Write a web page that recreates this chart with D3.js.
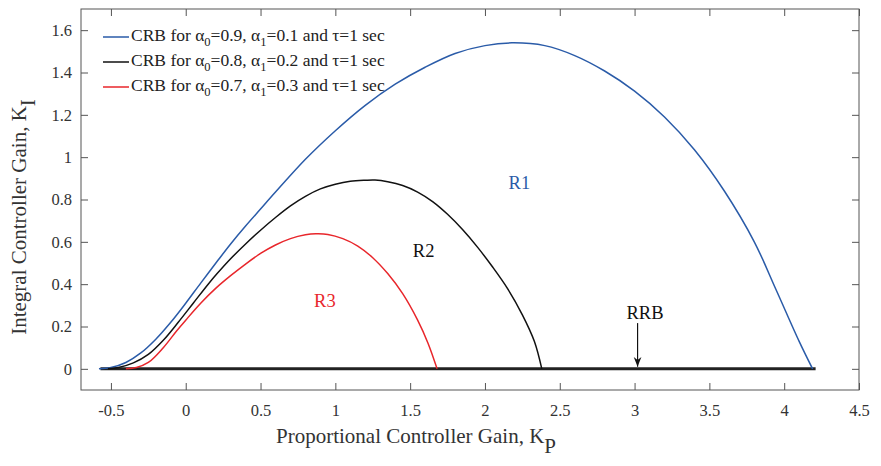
<!DOCTYPE html>
<html><head><meta charset="utf-8">
<script src="https://cdn.jsdelivr.net/npm/d3@7"></script>
<style>body{margin:0;background:#fff}svg{display:block}</style>
</head><body>
<svg id="c" width="881" height="466"></svg>
<script>
// ---- data ----
const xTicks = [-0.5,0,0.5,1,1.5,2,2.5,3,3.5,4,4.5];
const yTicks = [0,0.2,0.4,0.6,0.8,1,1.2,1.4,1.6];
const xTickLabels = ["-0.5","0","0.5","1","1.5","2","2.5","3","3.5","4","4.5"];
const yTickLabels = ["0","0.2","0.4","0.6","0.8","1","1.2","1.4","1.6"];

const crb1 = [[-0.58,0],[-0.5,0.006],[-0.4,0.03],[-0.3,0.075],[-0.2,0.14],[-0.1,0.22],[0.0,0.31],[0.1,0.405],[0.218,0.515],[0.3,0.59],[0.4,0.675],[0.5,0.755],[0.6,0.835],[0.8,0.99],[1.0,1.125],[1.2,1.245],[1.4,1.345],[1.6,1.425],[1.8,1.49],[2.0,1.527],[2.18,1.54],[2.4,1.527],[2.6,1.48],[2.8,1.407],[3.0,1.312],[3.2,1.19],[3.4,1.035],[3.6,0.84],[3.8,0.6],[3.945,0.375],[4.1,0.13],[4.19,0]];
const crb2 = [[-0.52,0],[-0.45,0.006],[-0.35,0.028],[-0.25,0.068],[-0.15,0.135],[-0.05,0.22],[0.05,0.31],[0.15,0.4],[0.21,0.45],[0.3,0.52],[0.4,0.59],[0.5,0.655],[0.6,0.715],[0.7,0.77],[0.8,0.815],[0.9,0.85],[1.0,0.872],[1.1,0.886],[1.2,0.891],[1.265,0.892],[1.35,0.884],[1.45,0.866],[1.55,0.835],[1.65,0.79],[1.75,0.73],[1.85,0.658],[1.95,0.575],[2.05,0.482],[2.15,0.38],[2.25,0.255],[2.33,0.13],[2.38,0]];
const crb3 = [[-0.4,0],[-0.33,0.006],[-0.25,0.03],[-0.15,0.1],[-0.06,0.18],[0.0,0.23],[0.1,0.31],[0.2,0.38],[0.3,0.44],[0.4,0.495],[0.5,0.545],[0.6,0.585],[0.7,0.615],[0.8,0.633],[0.87,0.638],[0.95,0.635],[1.05,0.615],[1.15,0.58],[1.25,0.525],[1.35,0.45],[1.45,0.355],[1.55,0.23],[1.62,0.12],[1.68,0]];
const rrb = [[-0.57,0],[4.21,0]];
const legendLabels = [["0.9","0.1"],["0.8","0.2"],["0.7","0.3"]];
const regionLabels = [{t:"R1",x:2.23,y:0.85,c:"#2a5ba8"},{t:"R2",x:1.59,y:0.53,c:"#111"},{t:"R3",x:0.93,y:0.29,c:"#e8262b"}];
const rrbLabel = {t:"RRB",x:3.07,y:0.235,ax:3.02,ay0:0.235,ay1:0.01};

// ---- layout ----
const L=81,R=859,T=9,B=390;
const xs=d3.scaleLinear().domain([-0.7,4.5]).range([L,R]);
const ys=d3.scaleLinear().domain([-0.1,1.7]).range([B,T]);
const svg=d3.select("#c");
const font="'Liberation Serif','Times New Roman',serif";
const axisCol="#555", txtCol="#333";

svg.append("defs").append("clipPath").attr("id","clip").append("rect")
  .attr("x",L).attr("y",T).attr("width",R-L).attr("height",B-T);

// axes with inward ticks
const tl=7;
const gx=svg.append("g").attr("transform",`translate(0,${B})`)
  .call(d3.axisBottom(xs).tickValues(xTicks).tickSize(-tl).tickPadding(14).tickFormat((d,i)=>xTickLabels[i]));
const gxt=svg.append("g").attr("transform",`translate(0,${T})`)
  .call(d3.axisTop(xs).tickValues(xTicks).tickSize(-tl).tickFormat(""));
const gy=svg.append("g").attr("transform",`translate(${L},0)`)
  .call(d3.axisLeft(ys).tickValues(yTicks).tickSize(-tl).tickPadding(9).tickFormat((d,i)=>yTickLabels[i]));
const gyr=svg.append("g").attr("transform",`translate(${R},0)`)
  .call(d3.axisRight(ys).tickValues(yTicks).tickSize(-tl).tickFormat(""));
[gx,gxt,gy,gyr].forEach(g=>{
  g.attr("font-family",font).attr("font-size",16.5);
  g.select(".domain").remove();
  g.selectAll(".tick line").attr("stroke",axisCol).attr("stroke-width",1);
  g.selectAll(".tick text").attr("fill",txtCol).style("font-family",font).style("font-size","16.5px");
});
svg.append("rect").attr("x",L).attr("y",T).attr("width",R-L).attr("height",B-T)
  .attr("fill","none").attr("stroke",axisCol).attr("stroke-width",1);

// lines
const line=d3.line().x(d=>xs(d[0])).y(d=>ys(d[1])).curve(d3.curveCatmullRom.alpha(0.5));
const pg=svg.append("g").attr("clip-path","url(#clip)");
pg.append("path").datum(rrb).attr("d",line).attr("fill","none").attr("stroke","#222").attr("stroke-width",3);
const series=[{d:crb1,c:"#2a5ba8"},{d:crb2,c:"#111"},{d:crb3,c:"#e8262b"}];
series.forEach(s=>pg.append("path").datum(s.d).attr("d",line).attr("fill","none").attr("stroke",s.c).attr("stroke-width",1.5));

// region labels
regionLabels.forEach(r=>svg.append("text").attr("x",xs(r.x)).attr("y",ys(r.y)).attr("text-anchor","middle")
  .attr("fill",r.c).style("font-family",font).style("font-size","18.5px").text(r.t));
svg.append("text").attr("x",xs(rrbLabel.x)).attr("y",ys(rrbLabel.y)).attr("text-anchor","middle")
  .attr("fill","#111").style("font-family",font).style("font-size","18.5px").text(rrbLabel.t);
svg.append("defs").append("marker").attr("id","ah").attr("viewBox","0 0 10 10").attr("refX",10).attr("refY",5)
  .attr("markerWidth",8).attr("markerHeight",8).attr("orient","auto")
  .append("path").attr("d","M0,1 L10,5 L0,9 L3,5 z").attr("fill","#111");
svg.append("line").attr("x1",xs(rrbLabel.ax)).attr("x2",xs(rrbLabel.ax))
  .attr("y1",ys(rrbLabel.ay0)+4).attr("y2",ys(rrbLabel.ay1)).attr("stroke","#111").attr("stroke-width",1.2)
  .attr("marker-end","url(#ah)");

// legend
const lg=svg.append("g");
const legY=[37,62,87];
legendLabels.forEach((p,i)=>{
  lg.append("line").attr("x1",103).attr("x2",129).attr("y1",legY[i]).attr("y2",legY[i])
    .attr("stroke",series[i].c).attr("stroke-width",1.5);
  const t=lg.append("text").attr("x",131).attr("y",legY[i]+4).attr("fill","#222")
    .style("font-family",font).style("font-size","17.5px");
  t.append("tspan").text("CRB for \u03b1");
  t.append("tspan").attr("dy",5).style("font-size","12.5px").text("0");
  t.append("tspan").attr("dy",-5).text("="+p[0]+", \u03b1");
  t.append("tspan").attr("dy",5).style("font-size","12.5px").text("1");
  t.append("tspan").attr("dy",-5).text("="+p[1]+" and \u03c4=1 sec");
});

// axis titles
const xt=svg.append("text").attr("x",416).attr("y",443).attr("text-anchor","middle").attr("fill",txtCol)
  .style("font-family",font).style("font-size","21px");
xt.append("tspan").text("Proportional Controller Gain, K");
xt.append("tspan").attr("dy",10).text("P");
const yt=svg.append("text").attr("transform",`translate(26,217) rotate(-90)`).attr("text-anchor","middle").attr("fill",txtCol)
  .style("font-family",font).style("font-size","21px");
yt.append("tspan").text("Integral Controller Gain, K");
yt.append("tspan").attr("dy",9).text("I");
</script>
</body></html>
